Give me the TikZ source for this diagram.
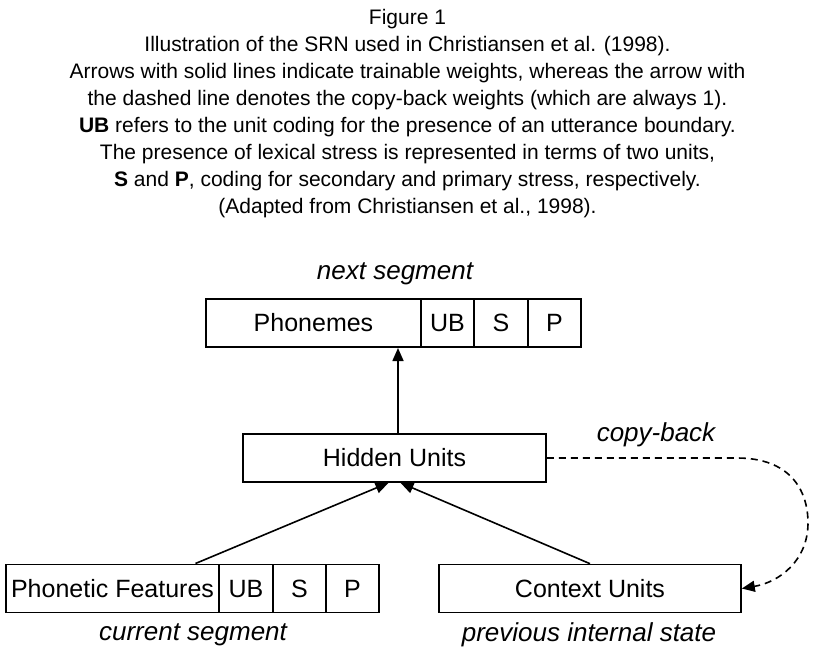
\documentclass[tikz,border=0pt]{standalone}
\usepackage{fontspec}
\setmainfont{Liberation Sans}
\usetikzlibrary{arrows.meta,fit}
\begin{document}
\begin{tikzpicture}[x=1pt,y=-1pt,
  cell/.style={draw,line width=1.6pt,inner sep=0pt,minimum height=48pt,text height=18pt,text depth=1pt,font=\fontsize{25}{30}\selectfont},
  grp/.style={inner sep=0pt,draw=none},
  lab/.style={font=\fontsize{26}{30}\selectfont\itshape},
  captext/.style={font=\fontsize{21}{27}\selectfont,align=center},
  wt/.style={line width=1.6pt,-{Triangle[width=11pt,length=13pt]}},
  cb/.style={line width=1.6pt,dash pattern=on 7pt off 5pt,-{Triangle[width=11pt,length=13pt]}}]
\useasboundingbox (0,0) rectangle (815,656);
\node[captext,anchor=north] (caption) at (407.5,6) {Figure 1\\
Illustration of the SRN used in Christiansen et al. (1998).\\
Arrows with solid lines indicate trainable weights, whereas the arrow with\\
the dashed line denotes the copy-back weights (which are always 1).\\
\textbf{UB} refers to the unit coding for the presence of an utterance boundary.\\
The presence of lexical stress is represented in terms of two units,\\
\textbf{S} and \textbf{P}, coding for secondary and primary stress, respectively.\\
(Adapted from Christiansen et al., 1998).};
% output layer
\node[cell,minimum width=215pt] (phon) at (313.5,323) {Phonemes};
\node[cell,minimum width=53pt] (oub) at (447.5,323) {UB};
\node[cell,minimum width=54pt] (os) at (501,323) {S};
\node[cell,minimum width=53pt] (op) at (554.5,323) {P};
\node[grp,fit=(phon)(op)] (outgrp) {};
\node[lab] (next) at (395,274) {next segment};
% hidden
\node[cell,minimum width=303pt] (hid) at (394.5,458) {Hidden Units};
% input
\node[cell,minimum width=213pt] (pf) at (112.5,588.5) {Phonetic Features};
\node[cell,minimum width=54pt] (iub) at (246,588.5) {UB};
\node[cell,minimum width=53pt] (is) at (299.5,588.5) {S};
\node[cell,minimum width=53pt] (ip) at (352.5,588.5) {P};
\node[grp,fit=(pf)(ip)] (ingrp) {};
\node[lab] (cur) at (193,635) {current segment};
% context
\node[cell,minimum width=302pt] (ctx) at (590,588.5) {Context Units};
\node[lab] (prev) at (589,635) {previous internal state};
\node[lab] (copy) at (656,435) {copy-back};
% connectors
\draw[wt] ([xshift=3.5pt]hid.north) -- ([xshift=3.5pt]hid.north |- outgrp.south);
\draw[wt] ([xshift=3pt]ingrp.north) -- ([xshift=-6pt]hid.south);
\draw[wt] (ctx.north) -- ([xshift=6pt]hid.south);
\coordinate (c1) at (737,458);
\coordinate (c2) at (808,523);
\draw[cb] (hid.east) -- (c1) .. controls (790,458) and (808,490) .. (c2)
  .. controls (808,560) and (780,582) .. (ctx.east);
\end{tikzpicture}
\end{document}
